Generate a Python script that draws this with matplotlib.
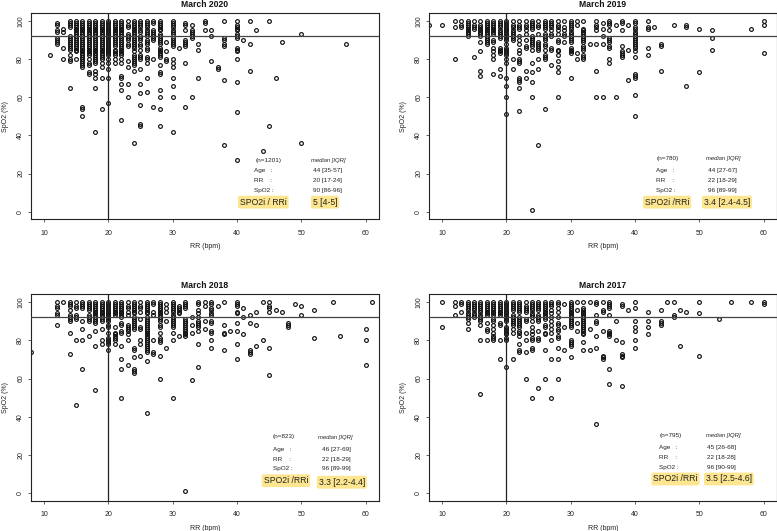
import matplotlib
matplotlib.use('Agg')
from matplotlib import pyplot as plt

plt.rcParams['font.family'] = ['Liberation Sans', 'DejaVu Sans']

# spo2 values are listed per RR column
rr_2020 = [11, 12, 13, 14, 15, 16, 17, 18, 19, 20, 21, 22, 23, 24, 25, 26, 27, 28, 29, 30, 31, 32, 33, 34, 35, 36, 37, 38, 40, 41, 42, 43, 44, 45, 46, 47, 50, 57]
spo2_2020 = [
    [82],
    [99, 98, 95, 94, 91, 90, 89, 88],
    [96, 94, 86, 80],
    [100, 99, 98, 97, 92, 91, 90, 89, 88, 87, 86, 85, 82, 80, 79, 65],
    [100, 99, 98, 97, 96, 95, 94, 93, 92, 91, 90, 89, 88, 87, 86, 85, 84, 80],
    [100, 99, 98, 97, 96, 95, 94, 93, 92, 91, 90, 89, 88, 87, 86, 85, 84, 83, 82, 81, 80, 79, 78, 77, 76, 55, 54, 50],
    [100, 99, 98, 97, 96, 95, 94, 93, 92, 91, 90, 89, 88, 87, 86, 85, 84, 83, 82, 80, 78, 77, 73, 72],
    [100, 99, 98, 97, 96, 95, 94, 93, 92, 91, 90, 89, 88, 87, 86, 85, 84, 83, 82, 81, 80, 79, 78, 74, 72, 70, 65, 42],
    [100, 99, 98, 97, 96, 95, 94, 93, 92, 91, 90, 89, 88, 87, 86, 85, 84, 83, 82, 81, 80, 78, 76, 70, 54],
    [100, 99, 98, 97, 96, 95, 94, 93, 92, 91, 90, 89, 88, 87, 86, 85, 84, 83, 82, 80, 78, 75, 70, 57],
    [100, 99, 98, 97, 96, 95, 94, 93, 92, 91, 90, 89, 88, 87, 85, 84, 83, 82, 80, 78],
    [100, 99, 98, 97, 96, 95, 94, 93, 92, 91, 90, 89, 88, 87, 86, 85, 84, 83, 82, 80, 78, 71, 70, 67, 64, 48],
    [100, 98, 97, 93, 92, 91, 90, 88, 87, 79, 76, 67, 60],
    [100, 99, 98, 97, 96, 95, 94, 93, 92, 91, 90, 89, 88, 87, 86, 84, 82, 81, 80, 79, 78, 77, 74, 36],
    [100, 99, 98, 97, 95, 94, 92, 91, 90, 88, 87, 85, 82, 81, 80, 75, 67, 62, 56, 46, 45],
    [100, 99, 98, 97, 95, 94, 93, 92, 90, 89, 88, 86, 85, 81, 80, 78, 70, 63],
    [100, 99, 95, 94, 93, 92, 91, 90, 80, 55],
    [100, 99, 98, 97, 96, 95, 93, 92, 91, 90, 89, 88, 86, 85, 84, 83, 82, 81, 77, 73, 72, 64, 60, 54, 45],
    [89, 84, 80, 79],
    [100, 99, 98, 97, 95, 94, 93, 91, 90, 89, 88, 87, 80, 78, 76, 70, 66, 60, 42],
    [86],
    [99, 98, 95, 90, 89, 88, 87, 78, 55],
    [98, 95, 94, 93, 92, 91, 60],
    [88, 85, 70],
    [100, 99, 95],
    [95, 92, 79],
    [76, 75],
    [100, 91, 90, 88, 87, 69, 35],
    [100, 98, 97, 96, 95, 93, 92, 91, 86, 85, 84, 80, 68, 52, 27],
    [90],
    [100, 88, 74],
    [95],
    [32],
    [100, 45],
    [70],
    [89],
    [93, 36],
    [88],
]

rr_2019 = [8, 10, 12, 13, 14, 15, 16, 17, 18, 19, 20, 21, 22, 23, 24, 25, 26, 27, 28, 29, 30, 31, 32, 33, 34, 35, 36, 37, 38, 39, 40, 42, 43, 44, 46, 48, 50, 52, 58, 60]
spo2_2019 = [
    [98],
    [98],
    [100, 97, 80],
    [100, 98, 97],
    [100, 99, 98, 97, 96, 95, 94, 93, 92],
    [100, 98, 97, 96, 81],
    [100, 98, 97, 96, 95, 94, 93, 92, 89, 84, 74, 71],
    [100, 99, 98, 97, 96, 95, 94, 93, 92, 91, 90, 89, 88],
    [100, 99, 98, 97, 96, 95, 94, 93, 90, 89, 86, 84, 82, 80, 72],
    [100, 99, 98, 97, 95, 94, 93, 92, 91, 86, 85, 84, 83, 75, 71],
    [100, 99, 98, 97, 96, 95, 94, 93, 92, 91, 90, 88, 86, 85, 84, 83, 82, 80, 78, 70, 66, 60, 51],
    [100, 98, 97, 95, 94, 93, 92, 91, 90, 80, 75],
    [100, 98, 97, 96, 92, 90, 88, 85, 83, 80, 79, 78, 70, 69, 68, 65, 53],
    [100, 98, 97, 95, 93, 90, 87, 86, 74, 70],
    [100, 99, 98, 97, 96, 92, 91, 90, 89, 88, 87, 85, 78, 73, 68, 60, 1],
    [100, 98, 97, 93, 89, 88, 87, 86, 85, 80, 75, 35],
    [100, 99, 98, 97, 96, 93, 92, 91, 90, 88, 87, 85, 82, 81, 80, 54],
    [100, 99, 98, 97, 95, 93, 92, 86, 85, 77],
    [100, 98, 97, 95, 93, 90, 89, 85, 84, 82, 79, 76, 73, 60],
    [100, 97, 95, 93, 92, 89],
    [100, 99, 98, 97, 96, 94, 93, 92, 91, 90, 89, 86, 85, 84, 83, 70],
    [100, 98, 83, 80],
    [100, 96, 95, 94, 93, 92, 91, 90, 89, 87, 86, 85, 82, 81, 80],
    [88],
    [100, 98, 97, 95, 88, 74, 60],
    [99, 96, 92, 88, 60],
    [100, 99, 98, 95, 91, 90, 89, 87, 86, 80, 78],
    [98, 60],
    [100, 99, 95, 87, 84, 83, 82, 81],
    [98, 85, 69],
    [100, 99, 97, 96, 94, 93, 92, 91, 90, 89, 88, 87, 86, 84, 81, 72, 71, 70, 61, 50],
    [100, 97, 96, 86, 82],
    [97],
    [88, 87, 74],
    [98],
    [98, 97, 66],
    [96, 73],
    [95, 91, 85],
    [96],
    [100, 98, 83],
]

rr_2018 = [8, 12, 13, 14, 15, 16, 17, 18, 19, 20, 21, 22, 23, 24, 25, 26, 27, 28, 29, 30, 31, 32, 33, 34, 35, 36, 37, 38, 39, 40, 41, 42, 43, 44, 45, 46, 47, 48, 49, 50, 52, 55, 56, 60, 61]
spo2_2018 = [
    [74],
    [100, 98, 97, 94, 93, 88],
    [100],
    [100, 99, 98, 96, 93, 92, 91, 90, 84, 73],
    [100, 98, 97, 93, 92, 91, 80, 46],
    [100, 99, 98, 97, 90, 86, 80, 65],
    [100, 99, 98, 97, 96, 93, 92, 91, 90, 82],
    [100, 99, 98, 97, 96, 95, 94, 93, 92, 91, 90, 89, 85, 77, 54],
    [100, 99, 98, 97, 96, 95, 94, 93, 92, 91, 90, 86, 80, 78],
    [100, 99, 98, 97, 96, 95, 94, 93, 92, 91, 90, 88, 87, 84, 81, 80, 79, 78, 75],
    [100, 99, 98, 97, 96, 95, 94, 93, 87, 84, 83, 82, 81, 80, 78],
    [100, 99, 98, 97, 96, 95, 94, 93, 92, 89, 88, 85, 84, 77, 70, 65, 50],
    [100, 98, 97, 95, 93, 88, 87, 86, 85, 83, 80, 67],
    [100, 99, 98, 97, 96, 95, 94, 92, 91, 90, 89, 88, 87, 86, 76, 75, 71, 65, 64, 63],
    [100, 98, 97, 95, 91, 87, 86, 80, 78, 72],
    [100, 99, 98, 97, 96, 95, 94, 92, 91, 90, 89, 88, 87, 86, 85, 84, 83, 82, 81, 80, 79, 78, 77, 76, 75, 74, 69, 42],
    [100, 99, 95, 93, 80, 74, 73],
    [100, 99, 98, 97, 96, 95, 94, 93, 92, 91, 90, 88, 87, 84, 81, 80, 79, 72, 60],
    [99, 97, 95, 90, 76],
    [100, 99, 98, 97, 96, 95, 93, 92, 91, 90, 89, 88, 87, 84, 80, 50],
    [98, 97, 96, 95, 94, 82],
    [100, 99, 98, 97, 91, 90, 89, 88, 87, 86, 85, 84, 83, 82, 1],
    [92, 88, 84, 59],
    [100, 99, 96, 94, 92, 90, 89, 88, 87, 85, 78, 66],
    [100, 98, 90, 86],
    [100, 99, 97, 96, 94, 93, 90, 89, 85, 84, 80, 76],
    [98],
    [100, 88, 84, 83, 75],
    [85],
    [100, 99, 98, 95, 94, 89, 85, 78, 70],
    [97, 92, 83],
    [93, 89, 75, 74, 73],
    [95, 88, 77],
    [100, 80],
    [100, 98, 97, 95, 76, 62],
    [96],
    [95],
    [89, 88, 87],
    [99],
    [98, 93],
    [96, 81],
    [100],
    [82],
    [86, 80, 67],
    [100],
]

rr_2017 = [10, 12, 13, 14, 15, 16, 17, 18, 19, 20, 21, 22, 23, 24, 25, 26, 27, 28, 29, 30, 31, 32, 33, 34, 35, 36, 37, 38, 39, 40, 42, 44, 45, 46, 47, 48, 50, 53, 55, 58, 60]
spo2_2017 = [
    [100, 87],
    [100, 98, 93],
    [100, 99, 95],
    [100, 99, 98, 97, 96, 94, 93, 92, 91, 89, 86],
    [100, 99, 98, 97, 96, 94, 93, 92],
    [100, 99, 98, 97, 96, 95, 93, 92, 91, 90, 88, 80, 52],
    [100, 99, 98, 97, 96, 95, 94, 93, 89, 86, 85, 80],
    [100, 99, 98, 97, 96, 95, 94, 93, 91, 90, 88, 86, 84, 82, 81, 80],
    [100, 99, 98, 97, 96, 95, 94, 93, 89, 88, 80, 70],
    [100, 99, 98, 97, 96, 95, 94, 93, 92, 91, 90, 87, 86, 85, 84, 83, 81, 80, 66],
    [100, 99, 98, 97, 96, 93, 92, 91, 90, 89, 88, 86, 84, 70],
    [100, 99, 98, 97, 96, 95, 92, 91, 90, 89, 88, 87, 85, 84, 82, 78, 75, 74],
    [100, 98, 97, 96, 95, 91, 90, 84, 80, 74, 60],
    [100, 99, 98, 97, 96, 94, 93, 92, 90, 87, 85, 83, 81, 80, 76, 75, 50],
    [100, 99, 98, 97, 96, 93, 92, 91, 90, 85, 81, 80, 55],
    [100, 99, 98, 97, 96, 95, 94, 93, 92, 91, 88, 87, 84, 83, 75, 60],
    [100, 99, 98, 96, 94, 92, 90, 88, 86, 84, 80, 70, 50],
    [100, 99, 97, 95, 92, 89, 88, 86, 85, 82, 81, 76, 70, 60],
    [99, 87, 75],
    [100, 99, 98, 97, 96, 95, 94, 93, 92, 91, 90, 89, 88, 87, 80, 79, 78, 77, 71],
    [100, 96, 89, 85],
    [100, 97, 96, 95, 94, 93, 92, 91, 90, 89, 88, 87, 86, 85, 84, 83, 79, 75],
    [100, 86, 75],
    [100, 99, 93, 90, 89, 82, 76, 36],
    [100, 96, 95, 85, 72, 71, 70],
    [100, 99, 98, 97, 93, 85, 84, 83, 82, 65, 57],
    [90, 80],
    [99, 98, 79, 73, 72, 71, 56],
    [96],
    [100, 97, 90, 87, 85, 80, 76],
    [95, 90, 87, 83],
    [96, 90, 89, 88],
    [100],
    [100, 93, 92],
    [96, 77],
    [95],
    [100, 94, 72],
    [91],
    [100],
    [100],
    [100, 99],
]

titles = ['March 2020', 'March 2019', 'March 2018', 'March 2017']
n_labels = ['(n=1201)', '(n=780)', '(n=823)', '(n=795)']
age_labels = ['44 [35-57]', '44 [27-67]', '46 [27-69]', '45 [26-68]']
rr_labels = ['20 [17-24]', '22 [18-29]', '22 [18-29]', '22 [18-28]']
spo2_labels = ['90 [86-96]', '96 [89-99]', '96 [89-99]', '96 [90-99]']
ratio_names = ['SPO2i / RRi', 'SPO2i /RRi', 'SPO2i /RRi', 'SPO2i /RRi']
ratio_labels = ['5 [4-5]', '3.4 [2.4-4.5]', '3.3 [2.2-4.4]', '3.5 [2.5-4.6]']

W, H = 777, 531
fig = plt.figure(figsize=(W / 100, H / 100), dpi=100)


def add_panel(left, top, right, bottom):
    return fig.add_axes([left / W, 1 - bottom / H, (right - left) / W, (bottom - top) / H])


panels = [
    add_panel(31, 13.3, 378.5, 219.3),
    add_panel(429, 13.3, 776.5, 219.3),
    add_panel(31, 294.3, 378.5, 501),
    add_panel(429, 294.3, 776.5, 501),
]
columns = [(rr_2020, spo2_2020), (rr_2019, spo2_2019), (rr_2018, spo2_2018), (rr_2017, spo2_2017)]

# text anchors in data units: n, median, left col, left colon, age/rr/spo2 values, rows y, ratio name, ratio value
layout = [
    dict(n=(45, 26.7), med=(54.2, 26.7), lx=42.7, vx=54, rows=(21.5, 16.2, 11), name=(44.1, 5), val=(53.7, 5)),
    dict(n=(45.1, 27.7), med=(53.7, 27.7), lx=43.2, vx=53.6, rows=(21.5, 16.2, 11), name=(45, 5), val=(54.3, 5)),
    dict(n=(47.3, 29.8), med=(55.3, 29), lx=45.6, vx=55.4, rows=(23, 17.8, 12.8), name=(47.6, 6.6), val=(56.3, 5.8)),
    dict(n=(45.6, 30), med=(53.8, 30), lx=43.8, vx=53.4, rows=(23.8, 18.7, 13.6), name=(46.3, 7.5), val=(54.6, 7.5)),
]

for i, ax in enumerate(panels):
    rr, spo2 = columns[i]
    xs = []
    ys = []
    for r, col in zip(rr, spo2):
        xs += [r] * len(col)
        ys += col
    ax.plot(xs, ys, 'o', ms=2.7, mfc='none', mec='#111111', mew=0.85, zorder=2)
    ax.axhline(92, color='#444444', lw=0.9, zorder=3)
    ax.axvline(20, color='#222222', lw=0.9, zorder=3)
    ax.set_xlim(8, 62)
    ax.set_ylim(-4, 104)
    ax.set_xticks([10, 20, 30, 40, 50, 60])
    ax.set_yticks([0, 20, 40, 60, 80, 100])
    ax.tick_params(axis='both', labelsize=5, length=2.4, width=0.5, color='#222222', labelcolor='#222222')
    ax.tick_params(axis='x', pad=5)
    ax.tick_params(axis='y', pad=2.5)
    for lab in ax.get_yticklabels():
        lab.set_rotation(90)
        lab.set_va('center')
    for s in ax.spines.values():
        s.set_linewidth(0.8)
        s.set_color('#222222')
    ax.set_xlabel('RR (bpm)', fontsize=5, color='#222222', labelpad=4.5)
    ax.set_ylabel('SpO2 (%)', fontsize=5, color='#222222', labelpad=6)
    ax.set_title(titles[i], fontsize=6.2, fontweight='bold', pad=4.5, color='#111111')

    p = layout[i]
    small = dict(fontsize=4.6, color='#222222', va='center')
    ax.text(p['n'][0], p['n'][1], n_labels[i], ha='center', **small)
    ax.text(p['med'][0], p['med'][1], 'median [IQR]', ha='center', style='italic',
            fontsize=4.2, color='#222222', va='center')
    row_names = ['Age   :', 'RR    :', 'SpO2 :']
    row_vals = [age_labels[i], rr_labels[i], spo2_labels[i]]
    for name, val, y in zip(row_names, row_vals, p['rows']):
        ax.text(p['lx'], y, name, ha='left', **small)
        ax.text(p['vx'], y, val, ha='center', **small)
    box = dict(boxstyle='round,pad=0.22', fc='#FDE68F', ec='none')
    ax.text(p['name'][0], p['name'][1], ratio_names[i], ha='center', va='center', fontsize=6.2,
            color='#222222', bbox=box, zorder=4)
    ax.text(p['val'][0], p['val'][1], ratio_labels[i], ha='center', va='center', fontsize=6.2,
            color='#222222', bbox=box, zorder=4)

plt.savefig('out.png', dpi=100)
